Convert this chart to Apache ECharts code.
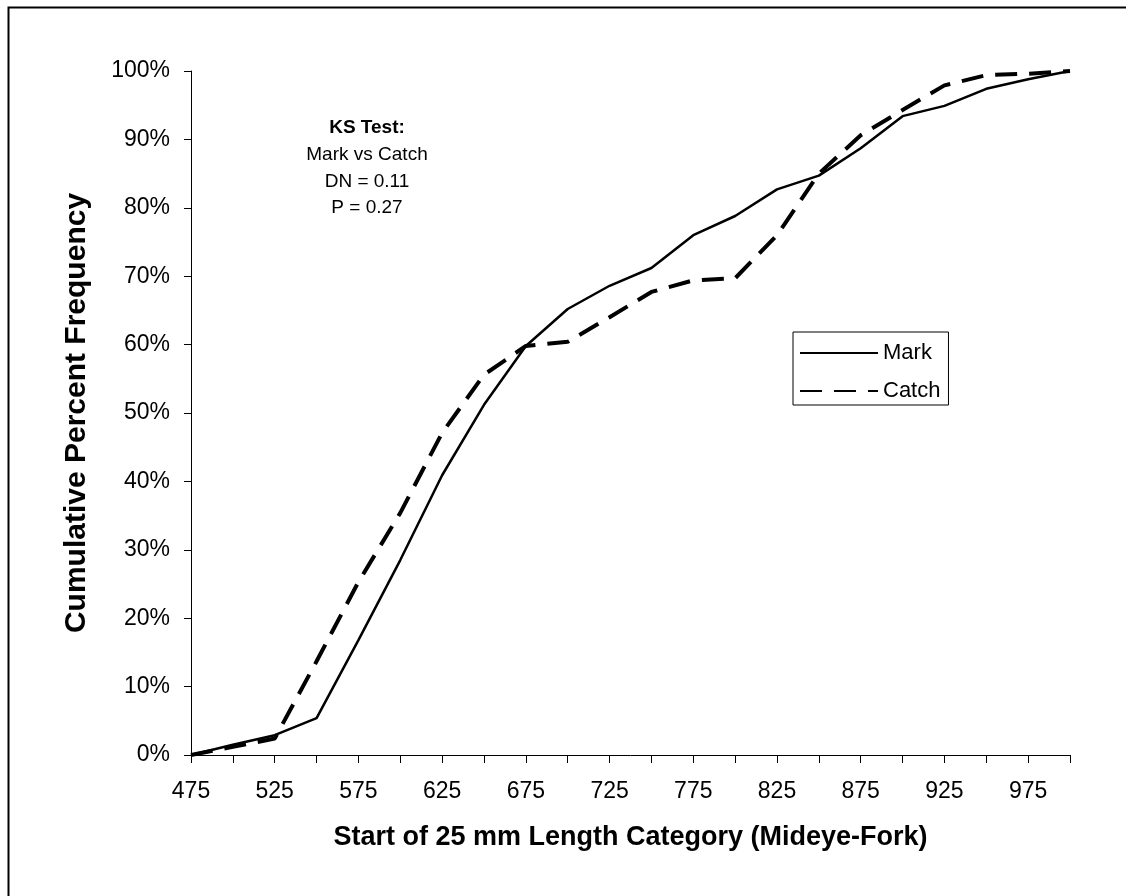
<!DOCTYPE html>
<html>

<head>
  <meta charset="utf-8">
  <title>Cumulative Length Frequency</title>
  <script src="https://cdn.jsdelivr.net/npm/echarts@6/dist/echarts.min.js"></script>
  <style>
    html, body { margin: 0; padding: 0; background: #fff; }
  </style>
</head>

<body>
  <div id="main" style="width: 1126px; height: 896px;"></div>
  <script type="text/javascript">
    // length categories (start of 25 mm bin)
    var categories = ['475', '500', '525', '550', '575', '600', '625', '650', '675', '700', '725',
      '750', '775', '800', '825', '850', '875', '900', '925', '950', '975', '1000'];
    // cumulative percent frequency
    var markValues = [0, 1.5, 2.9, 5.4, 16.8, 28.5, 40.9, 51.2, 59.8, 65.2, 68.6,
      71.2, 76.0, 78.8, 82.7, 84.7, 88.7, 93.4, 94.9, 97.4, 98.8, 100];
    var catchValues = [0, 1.2, 2.4, 13.7, 25.3, 35.4, 47.1, 55.6, 59.8, 60.4, 64.0,
      67.7, 69.4, 69.7, 76.0, 85.0, 90.6, 94.3, 97.9, 99.4, 99.6, 100];
    var ksTitle = 'KS Test:';
    var ksLines = ['Mark vs Catch', 'DN = 0.11', 'P = 0.27'];

    var font = 'Arial, "Liberation Sans", sans-serif';
    var myChart = echarts.init(document.getElementById('main'));

    // KS test note, one text per line
    var ksY = [155, 181.5, 208];
    var notes = [{
      type: 'text',
      x: 367,
      y: 128,
      style: { text: ksTitle, font: 'bold 19px ' + font, fill: '#000', align: 'center', verticalAlign: 'middle' }
    }];
    ksLines.forEach(function (t, i) {
      notes.push({
        type: 'text',
        x: 367,
        y: ksY[i],
        style: { text: t, font: '19px ' + font, fill: '#000', align: 'center', verticalAlign: 'middle' }
      });
    });

    myChart.setOption({
      backgroundColor: '#fff',
      animation: false,
      grid: { left: 191, right: 56, top: 71, bottom: 141 },
      legend: {
        orient: 'vertical',
        left: 793,
        top: 332,
        padding: [10, 8, 3, 6],
        itemGap: 16,
        itemWidth: 78,
        itemHeight: 14,
        borderColor: '#000',
        borderWidth: 1,
        itemStyle: { opacity: 0 },
        textStyle: { fontFamily: font, fontSize: 22, color: '#000' },
        data: ['Mark', 'Catch']
      },
      xAxis: {
        type: 'category',
        boundaryGap: false,
        data: categories,
        name: 'Start of 25 mm Length Category (Mideye-Fork)',
        nameLocation: 'middle',
        nameGap: 69,
        nameTextStyle: { fontFamily: font, fontSize: 27, fontWeight: 'bold', color: '#000' },
        axisLine: { lineStyle: { color: '#000', width: 1 } },
        axisTick: { interval: 0, length: 8, lineStyle: { color: '#000' } },
        axisLabel: { interval: 1, margin: 25, fontFamily: font, fontSize: 23, color: '#000' },
        splitLine: { show: false }
      },
      yAxis: {
        type: 'value',
        min: 0,
        max: 100,
        interval: 10,
        name: 'Cumulative Percent Frequency',
        nameLocation: 'middle',
        nameGap: 99,
        nameTextStyle: { fontFamily: font, fontSize: 30, fontWeight: 'bold', color: '#000' },
        axisLine: { show: true, lineStyle: { color: '#000', width: 1 } },
        axisTick: { show: true, length: 7, lineStyle: { color: '#000' } },
        axisLabel: { margin: 21, fontFamily: font, fontSize: 23, color: '#000', formatter: '{value}%' },
        splitLine: { show: false }
      },
      series: [{
        name: 'Mark',
        type: 'line',
        data: markValues,
        symbol: 'none',
        color: '#000',
        lineStyle: { color: '#000', width: 2.5 }
      }, {
        name: 'Catch',
        type: 'line',
        data: catchValues,
        symbol: 'none',
        color: '#000',
        lineStyle: { color: '#000', width: 4, type: [22, 12] }
      }],
      graphic: [{
        type: 'rect',
        left: 6,
        top: 5,
        shape: { x: 0, y: 0, width: 1140, height: 910 },
        style: { fill: 'none', stroke: '#000', lineWidth: 2 },
        silent: true
      }].concat(notes)
    });
  </script>
</body>

</html>
